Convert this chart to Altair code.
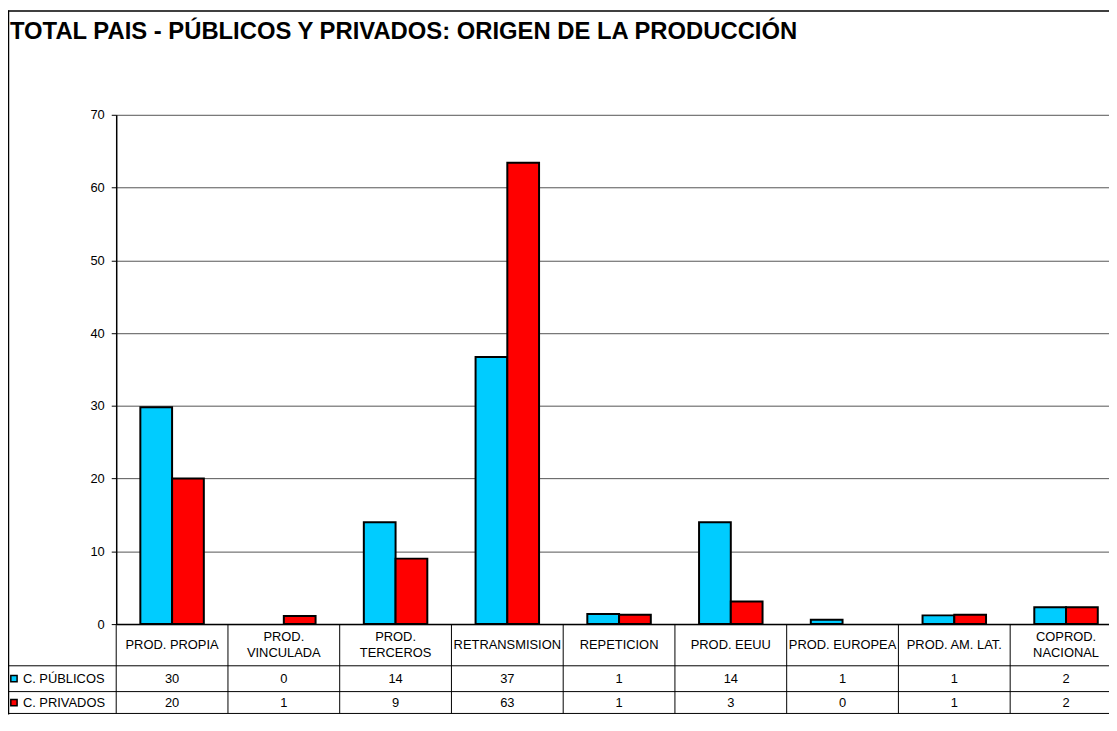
import altair as alt
import pandas as pd

categories = ["PROD. PROPIA", "PROD. VINCULADA", "PROD. TERCEROS", "RETRANSMISION",
              "REPETICION", "PROD. EEUU", "PROD. EUROPEA", "PROD. AM. LAT.", "COPROD. NACIONAL"]
header_labels = ["PROD. PROPIA", "PROD.\nVINCULADA", "PROD.\nTERCEROS", "RETRANSMISION",
                 "REPETICION", "PROD. EEUU", "PROD. EUROPEA", "PROD. AM. LAT.", "COPROD.\nNACIONAL"]
series = ["C. PÚBLICOS", "C. PRIVADOS"]
colors = ["#00CCFF", "#FF0000"]

# bar heights
publicos = [29.8, 0.0, 14.0, 36.7, 1.4, 14.0, 0.6, 1.2, 2.3]
privados = [20.0, 1.1, 9.0, 63.4, 1.3, 3.1, 0.0, 1.3, 2.3]
# values printed in the data table
publicos_tabla = [30, 0, 14, 37, 1, 14, 1, 1, 2]
privados_tabla = [20, 1, 9, 63, 1, 3, 0, 1, 2]

title_text = "TOTAL PAIS - PÚBLICOS Y PRIVADOS: ORIGEN DE LA PRODUCCIÓN"

rows = []
for i, c in enumerate(categories):
    rows.append({"cat": c, "series": series[0], "value": publicos[i], "tabla": publicos_tabla[i], "row": 0})
    rows.append({"cat": c, "series": series[1], "value": privados[i], "tabla": privados_tabla[i], "row": 1})
df = pd.DataFrame(rows)
cats_df = pd.DataFrame({"cat": categories, "label": header_labels})
series_df = pd.DataFrame({"series": series, "row": [0, 1]})
one = pd.DataFrame({"a": [0]})

FONT = "Liberation Sans"
FS = 13
W, H = 1000, 513
XRANGE = 1013
TB = 603  # table bottom (relative to plot top)

xscale = alt.Scale(domain=categories, range=[0, XRANGE], paddingInner=0, paddingOuter=0)
color_scale = alt.Scale(domain=series, range=colors)

bars = alt.Chart(df).transform_filter("datum.value > 0").mark_bar(stroke="black", strokeWidth=2).encode(
    x=alt.X("cat:N", sort=categories, scale=xscale,
            axis=alt.Axis(labels=False, ticks=False, title=None, domain=True,
                          domainColor="black", domainWidth=1.5, grid=False)),
    xOffset=alt.XOffset("series:N", sort=series,
                        scale=alt.Scale(domain=series, paddingInner=0, paddingOuter=0.76)),
    y=alt.Y("value:Q", scale=alt.Scale(domain=[0, 70], nice=False),
            axis=alt.Axis(values=[0, 10, 20, 30, 40, 50, 60, 70], title=None,
                          tickSize=5, labelPadding=7, labelFontSize=13, labelFont=FONT,
                          labelColor="black", domainColor="black", tickColor="black",
                          domainWidth=1.5, grid=True, gridColor="#555", gridWidth=1)),
    color=alt.Color("series:N", scale=color_scale, legend=None),
)

# table vertical lines at column starts
vlines = alt.Chart(cats_df).mark_rule(color="black", strokeWidth=1).encode(
    x=alt.X("cat:N", sort=categories, scale=xscale, bandPosition=0),
    y=alt.value(H), y2=alt.value(TB),
)

# table horizontal lines
hl_data = pd.DataFrame({"yy": [555, 581, TB]})
hlines = alt.Chart(hl_data).mark_rule(color="black", strokeWidth=1).encode(
    x=alt.value(-109), x2=alt.value(W), y=alt.Y("yy:Q", scale=None),
)

header = alt.Chart(cats_df).transform_calculate(
    ypos="indexof(datum.label, '\\n') >= 0 ? 526 : 534"
).mark_text(lineBreak="\n", fontSize=FS, font=FONT, color="black",
            baseline="middle", lineHeight=16).encode(
    x=alt.X("cat:N", sort=categories, scale=xscale),
    y=alt.Y("ypos:Q", scale=None),
    text="label:N",
)

row_layers = []
row_y = [568, 592]
for r in range(2):
    sub = df[df["row"] == r]
    row_layers.append(
        alt.Chart(sub).mark_text(fontSize=FS, font=FONT, color="black", baseline="middle").encode(
            x=alt.X("cat:N", sort=categories, scale=xscale),
            y=alt.value(row_y[r]),
            text="tabla:Q",
        )
    )
    srow = series_df[series_df["row"] == r]
    row_layers.append(
        alt.Chart(srow).mark_text(fontSize=FS, font=FONT, color="black", baseline="middle",
                                  align="left").encode(
            x=alt.value(-94), y=alt.value(row_y[r]), text="series:N",
        )
    )
    row_layers.append(
        alt.Chart(srow).mark_point(shape="square", filled=True, size=40, stroke="black",
                                   strokeWidth=1.5, opacity=1).encode(
            x=alt.value(-103), y=alt.value(row_y[r]),
            fill=alt.Fill("series:N", scale=color_scale, legend=None),
        )
    )

title = alt.Chart(one).mark_text(text=title_text, fontSize=24, fontWeight="bold", font=FONT,
                                  color="black", align="left", baseline="alphabetic").encode(
    x=alt.value(-107), y=alt.value(-76),
)

frame_left = alt.Chart(one).mark_rule(color="black", strokeWidth=1.5).encode(
    x=alt.value(-108.5), y=alt.value(-105), y2=alt.value(604),
)
frame_top = alt.Chart(one).mark_rule(color="black", strokeWidth=1.5).encode(
    x=alt.value(-109), x2=alt.value(W), y=alt.value(-104.5),
)

chart = alt.layer(
    bars, vlines, hlines, header, *row_layers, title, frame_left, frame_top
).properties(
    width=W, height=H, autosize="none",
    padding={"left": 109, "top": 105, "right": 0, "bottom": 91},
    background="white",
).configure_view(stroke=None)

chart.save("out.html", embed_options={"renderer": "svg", "actions": False})
